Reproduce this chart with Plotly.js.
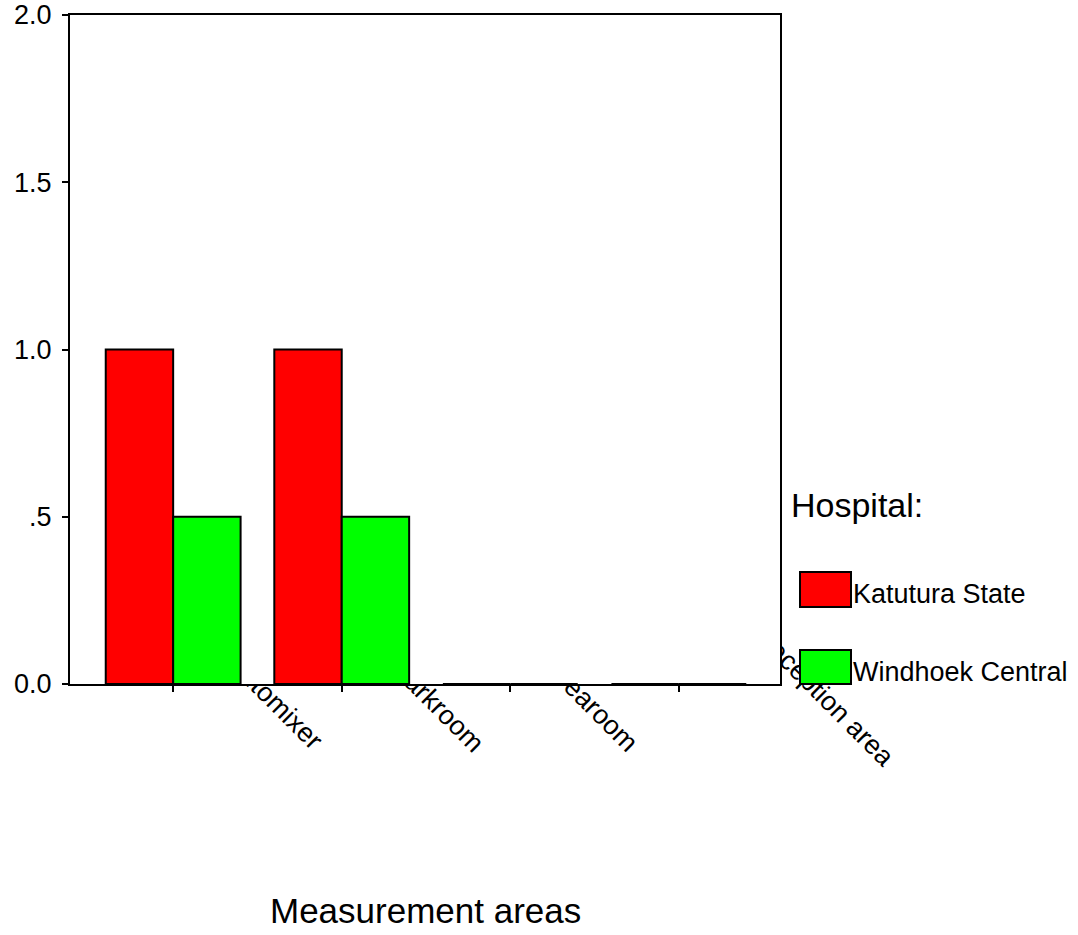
<!DOCTYPE html>
<html><head><meta charset="utf-8">
<script src="https://cdn.plot.ly/plotly-3.0.1.min.js"></script>
<style>html,body{margin:0;padding:0;background:#fff}#chart{width:1078px;height:935px}</style>
</head><body><div id="chart"></div>
<script>
// ---- data ----
const categories = ["Automixer", "Darkroom", "Tearoom", "Reception area"];
const katuturaState = [1.0, 1.0, 0, 0];
const windhoekCentral = [0.5, 0.5, 0, 0];
const seriesNames = ["Katutura State", "Windhoek Central"];
const yTickVals = [0, 0.5, 1, 1.5, 2];
const yTickText = ["0.0", ".5", "1.0", "1.5", "2.0"];
const legendTitle = "Hospital:";
const xTitle = "Measurement areas";

// ---- styles ----
const colors = ["#ff0000", "#00ff00"];
const FONT = "Liberation Sans, Arial, sans-serif";
const xRange = [-0.612, 3.6];
// per-label [shift along axis, standoff] in px (labels partly tucked under the plot area)
const labelOffsets = [[62, -43], [57, -38], [52, -29], [84, -70]];

const traces = [];
const layout = {
  width: 1078, height: 935,
  paper_bgcolor: "#fff", plot_bgcolor: "#fff",
  font: {family: FONT, size: 27, color: "#000"},
  barmode: "group", bargap: 0.2, bargroupgap: 0,
  showlegend: false
};

// label subplots (drawn beneath the bar subplot, whose white background hides the part inside the plot)
categories.forEach((c, i) => {
  const n = i === 0 ? "" : String(i + 1);
  traces.push({type: "bar", x: categories, y: katuturaState, xaxis: "x" + n, yaxis: "y" + n,
    marker: {color: "rgba(0,0,0,0)", line: {width: 0}}, showlegend: false, hoverinfo: "skip"});
  layout["xaxis" + n] = {type: "category", anchor: "y" + n, range: xRange,
    tickmode: "array", tickvals: [c], ticktext: [c], tickangle: 45, ticks: "",
    showline: false, showgrid: false, zeroline: false,
    ticklabelshift: labelOffsets[i][0], ticklabelstandoff: labelOffsets[i][1],
    tickfont: {family: FONT, size: 27, color: "#000"}, fixedrange: true};
  layout["yaxis" + n] = {anchor: "x" + n, visible: false, range: [0, 2], fixedrange: true};
});

// bar subplot
const B = String(categories.length + 1);
traces.push({type: "bar", name: seriesNames[0], x: categories, y: katuturaState, xaxis: "x" + B, yaxis: "y" + B,
  marker: {color: colors[0], line: {color: "#000", width: 2}}});
traces.push({type: "bar", name: seriesNames[1], x: categories, y: windhoekCentral, xaxis: "x" + B, yaxis: "y" + B,
  marker: {color: colors[1], line: {color: "#000", width: 2}}});
layout["xaxis" + B] = {type: "category", anchor: "y" + B, range: xRange, showline: true, mirror: true,
  linecolor: "#000", linewidth: 2, ticks: "outside", ticklen: 6, tickwidth: 2,
  tickcolor: "#000", showticklabels: false, showgrid: false, zeroline: false, fixedrange: true};
layout["yaxis" + B] = {anchor: "x" + B, range: [0, 2], tickmode: "array", tickvals: yTickVals, ticktext: yTickText,
  ticks: "outside", ticklen: 6, tickwidth: 2, tickcolor: "#000", ticklabelstandoff: 5,
  showline: true, mirror: true, linecolor: "#000", linewidth: 2,
  showgrid: false, zeroline: false, tickfont: {family: FONT, size: 27, color: "#000"},
  fixedrange: true};

// legend (drawn by hand for the large swatches) and axis title
const plotL = 70, plotR = 780, plotT = 15, plotB = 684;
layout.margin = {l: plotL, r: 1078 - plotR, t: plotT, b: 935 - plotB, pad: 0};
const pw = plotR - plotL, ph = plotB - plotT;
const px = v => (v - plotL) / pw;
const py = v => (plotB - v) / ph;
const swatchY = [[572, 607], [650, 684]];
const textY = [594, 672];

const shapes = [], annotations = [];
seriesNames.forEach((name, i) => {
  shapes.push({type: "rect", xref: "paper", yref: "paper", layer: "above",
    x0: px(800), x1: px(851), y0: py(swatchY[i][1]), y1: py(swatchY[i][0]),
    fillcolor: colors[i], line: {color: "#000", width: 2}});
  annotations.push({xref: "paper", yref: "paper", x: px(851), y: py(textY[i]),
    xanchor: "left", yanchor: "middle", showarrow: false, text: name,
    font: {family: FONT, size: 27, color: "#000"}});
});
annotations.push({xref: "paper", yref: "paper", x: px(789), y: py(505),
  xanchor: "left", yanchor: "middle", showarrow: false, text: legendTitle,
  font: {family: FONT, size: 34, color: "#000"}});
annotations.push({xref: "paper", yref: "paper", x: 0.5, y: py(910),
  xanchor: "center", yanchor: "middle", showarrow: false, text: xTitle,
  font: {family: FONT, size: 35, color: "#000"}});
layout.shapes = shapes;
layout.annotations = annotations;

Plotly.newPlot("chart", traces, layout, {displayModeBar: false, staticPlot: true});
</script>
</body></html>
